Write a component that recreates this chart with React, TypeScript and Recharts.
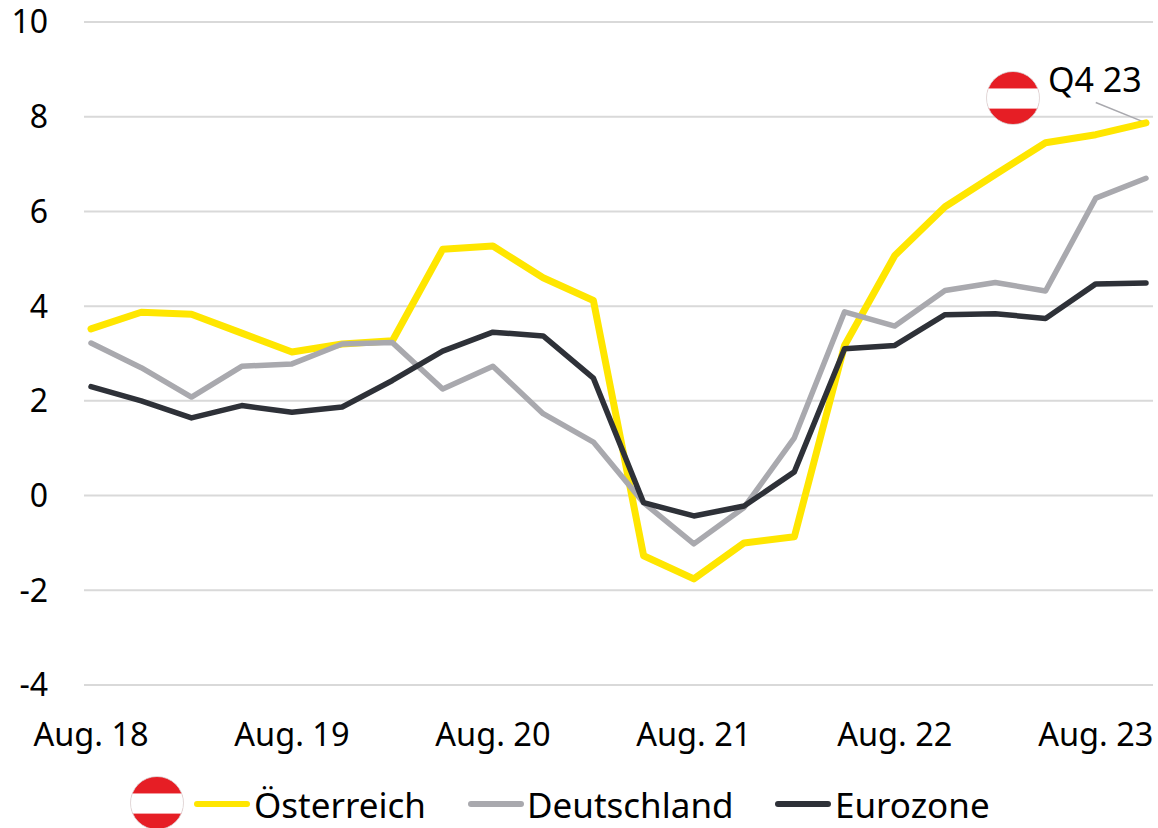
import { LineChart, Line, XAxis, YAxis, CartesianGrid, Legend, ReferenceLine } from "recharts";

const FONT = "'Noto Sans', sans-serif";

const quarters = [
  "Aug. 18", "Nov. 18", "Feb. 19", "Mai 19", "Aug. 19", "Nov. 19", "Feb. 20", "Mai 20",
  "Aug. 20", "Nov. 20", "Feb. 21", "Mai 21", "Aug. 21", "Nov. 21", "Feb. 22", "Mai 22",
  "Aug. 22", "Nov. 22", "Feb. 23", "Mai 23", "Aug. 23", "Nov. 23",
];
const oesterreich = [
  3.52, 3.87, 3.83, 3.43, 3.03, 3.2, 3.27, 5.2, 5.27, 4.6, 4.12,
  -1.27, -1.76, -1.0, -0.87, 3.17, 5.07, 6.1, 6.78, 7.45, 7.62, 7.87,
];
const deutschland = [
  3.22, 2.7, 2.08, 2.73, 2.78, 3.2, 3.23, 2.25, 2.73, 1.73, 1.13,
  -0.15, -1.02, -0.25, 1.22, 3.88, 3.58, 4.33, 4.5, 4.32, 6.28, 6.7,
];
const eurozone = [
  2.3, 2.0, 1.64, 1.9, 1.76, 1.87, 2.43, 3.05, 3.45, 3.37, 2.48,
  -0.15, -0.43, -0.22, 0.5, 3.1, 3.17, 3.82, 3.84, 3.74, 4.47, 4.49,
];
const yTicks = [-4, -2, 0, 2, 4, 6, 8, 10];

const legendItems = [
  { name: "Österreich", color: "#FFE600", swatchLeft: 194, textLeft: 254 },
  { name: "Deutschland", color: "#A9A9AE", swatchLeft: 468, textLeft: 527 },
  { name: "Eurozone", color: "#2E3138", swatchLeft: 775, textLeft: 835 },
];

const data = quarters.map((q, i) => ({
  q,
  oesterreich: oesterreich[i],
  deutschland: deutschland[i],
  eurozone: eurozone[i],
}));

function Flag({ cx, cy, r }: { cx: number; cy: number; r: number }) {
  return (
    <g>
      <clipPath id={`flag-${cx}`}>
        <circle cx={cx} cy={cy} r={r} />
      </clipPath>
      <g clipPath={`url(#flag-${cx})`}>
        <rect x={cx - r} y={cy - r} width={r * 2} height={r * 2} fill="#E61E25" />
        <rect x={cx - r} y={cy - r * 0.36} width={r * 2} height={r * 0.76} fill="#fff" />
      </g>
      <circle cx={cx} cy={cy} r={r} fill="none" stroke="#D9D9D9" strokeWidth={0.75} />
    </g>
  );
}

function ChartLegend() {
  return (
    <div style={{ position: "relative", width: 1158, height: 60 }}>
      {legendItems.map((item) => (
        <div key={item.name}>
          <div
            style={{
              position: "absolute",
              left: item.swatchLeft,
              top: 33,
              width: 56,
              height: 6,
              borderRadius: 3,
              background: item.color,
            }}
          />
          <span
            style={{
              position: "absolute",
              left: item.textLeft,
              top: 15,
              fontFamily: FONT,
              fontSize: 35,
              lineHeight: "44px",
              color: "#000",
            }}
          >
            {item.name}
          </span>
        </div>
      ))}
    </div>
  );
}

export default function App() {
  return (
    <div style={{ position: "absolute", left: 0, top: 0, width: 1158, height: 828, background: "#fff", overflow: "hidden" }}>
      <LineChart width={1158} height={828} data={data} margin={{ top: 22, right: 5, bottom: 0, left: 0 }}>
        <CartesianGrid horizontal vertical={false} stroke="#D9D9D9" strokeWidth={2} />
        <XAxis
          dataKey="q"
          interval={3}
          axisLine={false}
          tickLine={false}
          height={83}
          padding={{ left: 7, right: 7 }}
          tick={{ fill: "#000", fontSize: 32.5, fontFamily: FONT }}
          tickMargin={32}
        />
        <YAxis
          width={84}
          domain={[-4, 10]}
          ticks={yTicks}
          axisLine={false}
          tickLine={false}
          tick={{ fill: "#000", fontSize: 32, fontFamily: FONT }}
          tickMargin={30}
        />
        <ReferenceLine
          segment={[
            { x: "Aug. 23", y: 8.3 },
            { x: "Nov. 23", y: 7.87 },
          ]}
          stroke="#A9A9AE"
          strokeWidth={1.5}
        />
        <Line dataKey="oesterreich" name="Österreich" stroke="#FFE600" strokeWidth={7} dot={false} strokeLinejoin="round" strokeLinecap="round" isAnimationActive={false} />
        <Line dataKey="deutschland" name="Deutschland" stroke="#A9A9AE" strokeWidth={5.5} dot={false} strokeLinejoin="round" strokeLinecap="round" isAnimationActive={false} />
        <Line dataKey="eurozone" name="Eurozone" stroke="#2E3138" strokeWidth={5.5} dot={false} strokeLinejoin="round" strokeLinecap="round" isAnimationActive={false} />
        <Legend verticalAlign="bottom" height={60} content={() => <ChartLegend />} wrapperStyle={{ left: 0, bottom: 0, width: 1158 }} />
      </LineChart>
      <svg width={1158} height={828} style={{ position: "absolute", left: 0, top: 0, pointerEvents: "none" }}>
        <Flag cx={1013} cy={98} r={26.5} />
        <Flag cx={157} cy={803} r={26.5} />
        <text x={1048} y={92} fontFamily={FONT} fontSize={34} fill="#000">Q4 23</text>
      </svg>
    </div>
  );
}
